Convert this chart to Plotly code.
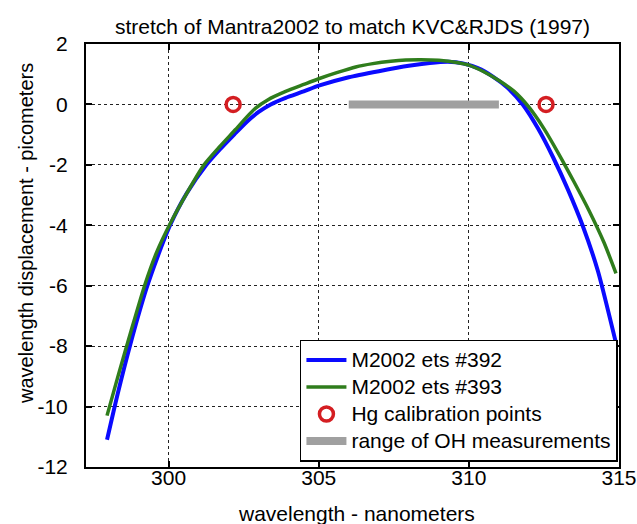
import plotly.graph_objects as go

# ---- data ----
x_392 = [297.95, 298.3, 298.71, 299.26, 299.65, 300.05, 300.6, 301.26, 301.7, 302.2,
         302.6, 303.0, 303.4, 303.9, 304.5, 305.0, 306.0, 307.0, 308.0, 308.7,
         309.3, 309.8, 310.3, 310.8, 311.3, 311.8, 312.3, 312.8, 313.3, 313.8,
         314.3, 314.9]
y_392 = [-11.1, -9.6, -8.0, -6.1, -5.0, -4.0, -2.95, -2.0, -1.5, -0.98,
         -0.58, -0.25, 0.0, 0.22, 0.43, 0.62, 0.9, 1.1, 1.28, 1.37,
         1.41, 1.36, 1.2, 0.92, 0.54, -0.01, -0.79, -1.74, -2.82, -4.04,
         -5.52, -7.9]

x_393 = [297.95, 298.3, 298.75, 299.2, 299.6, 300.05, 300.6, 301.18, 301.7, 302.23,
         302.6, 302.9, 303.3, 303.9, 304.5, 305.0, 305.6, 306.23, 306.8, 307.4,
         307.9, 308.4, 309.0, 309.6, 310.0, 310.5, 311.0, 311.5, 312.0, 312.5,
         313.0, 313.5, 314.0, 314.5, 314.9]
y_393 = [-10.3, -9.05, -7.5, -6.0, -4.9, -3.95, -2.95, -2.0, -1.4, -0.83,
         -0.42, -0.12, 0.15, 0.43, 0.66, 0.85, 1.05, 1.24, 1.35, 1.43,
         1.47, 1.48, 1.46, 1.39, 1.3, 1.08, 0.79, 0.44, -0.09, -0.8,
         -1.65, -2.56, -3.51, -4.57, -5.59]

hg_x = [302.15, 312.57]
hg_y = [0, 0]

oh_x = [306.0, 311.0]
oh_y = [0, 0]

x_ticks = [300, 305, 310, 315]
x_ticktext = ["300", "305", "310", "315"]
y_ticks = [2, 0, -2, -4, -6, -8, -10, -12]
y_ticktext = ["2", "0", "-2", "-4", "-6", "-8", "-10", "-12"]

legend_names = ["M2002 ets #392", "M2002 ets #393",
                "Hg calibration points", "range of OH measurements"]

FONT = "Liberation Sans, Arial, sans-serif"


def lg(name):
    return '<span style="font-size:21px">' + name + "</span>"


fig = go.Figure()
fig.add_trace(go.Scatter(x=x_392, y=y_392, mode="lines", name=lg(legend_names[0]),
                         line=dict(color="#0a0aff", width=4, shape="spline", smoothing=0.6)))
fig.add_trace(go.Scatter(x=x_393, y=y_393, mode="lines", name=lg(legend_names[1]),
                         line=dict(color="#2f7d1c", width=3.5, shape="spline", smoothing=0.6)))
fig.add_trace(go.Scatter(x=hg_x, y=hg_y, mode="markers", name=lg(legend_names[2]),
                         marker=dict(symbol="circle-open", size=14, color="#d41e22",
                                     line=dict(width=3.5, color="#d41e22"))))
fig.add_trace(go.Scatter(x=oh_x, y=oh_y, mode="lines", name=lg(legend_names[3]),
                         line=dict(color="#a0a0a0", width=8)))

axis_common = dict(
    showline=True, linecolor="black", linewidth=2, mirror="ticks",
    ticks="inside", ticklen=6, tickwidth=1.5, tickcolor="black",
    showgrid=True, gridcolor="#222222", gridwidth=1, griddash="dot",
    zeroline=False, automargin=False,
    tickfont=dict(family=FONT, size=21, color="black"),
)

fig.update_layout(
    width=637, height=524,
    margin=dict(l=86, r=18, t=44, b=57),
    paper_bgcolor="white", plot_bgcolor="white",
    showlegend=True,
    title=dict(text="stretch of Mantra2002 to match KVC&RJDS (1997)",
               x=0.5, xref="paper", y=1 - 27 / 524, yref="container",
               xanchor="center", yanchor="middle",
               font=dict(family=FONT, size=21, color="black")),
    xaxis=dict(range=[297.25, 315], tickvals=x_ticks, ticktext=x_ticktext,
               ticklabelstandoff=-9, **axis_common),
    yaxis=dict(range=[-12, 2], tickvals=y_ticks, ticktext=y_ticktext,
               ticklabelstandoff=12, **axis_common),
    legend=dict(x=0.998, y=0.012, xanchor="right", yanchor="bottom",
                bgcolor="white", bordercolor="black", borderwidth=1.5,
                font=dict(family=FONT, size=18.5, color="black"),
                itemwidth=40, tracegroupgap=0),
    annotations=[
        dict(text="wavelength - nanometers", xref="paper", yref="paper",
             x=(356 - 86) / 533, y=(467 - 513) / 423, xanchor="center", yanchor="middle",
             showarrow=False, font=dict(family=FONT, size=21, color="black")),
        dict(text="wavelength displacement - picometers", xref="paper", yref="paper",
             x=(26 - 86) / 533, y=(467 - 234) / 423, xanchor="center", yanchor="middle",
             textangle=-90, showarrow=False, font=dict(family=FONT, size=20, color="black")),
    ],
)

fig.write_html("out.html")
